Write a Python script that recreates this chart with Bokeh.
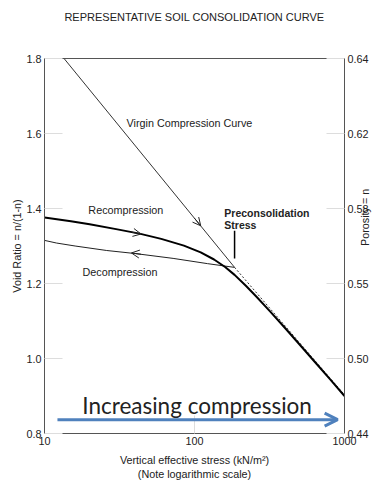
import math
from bokeh.plotting import figure
from bokeh.models import LinearAxis, FixedTicker, PrintfTickFormatter, Label, Arrow, OpenHead
from bokeh.embed import file_html
from bokeh.resources import INLINE

# ---- data ----
stress_virgin = [13.5, 185]
e_virgin = [1.80, 1.243]

stress_dash = [185, 1000]
e_dash = [1.243, 0.903]

stress_recomp = [10, 15, 20, 30, 43, 60, 85, 110, 135, 160, 185, 220, 260, 320, 400, 500, 650, 800, 1000]
e_recomp = [1.376, 1.366, 1.358, 1.345, 1.333, 1.319, 1.301, 1.283, 1.264, 1.244, 1.223, 1.194,
            1.164, 1.125, 1.082, 1.038, 0.986, 0.945, 0.900]

stress_decomp = [185, 122, 72, 40, 26, 16, 12, 10]
e_decomp = [1.243, 1.253, 1.267, 1.280, 1.288, 1.300, 1.308, 1.315]

precon_stress = [185, 185]
precon_bar = [1.267, 1.341]

void_ticks = [0.8, 1.0, 1.2, 1.4, 1.6, 1.8]
porosity_labels = ["0.44", "0.50", "0.55", "0.58", "0.62", "0.64"]
stress_ticks = [10, 100, 1000]

# arrow annotations: (x_start, y_start, x_end, y_end)
arrow_virgin = (100, 1.374, 110, 1.354)
arrow_recomp = (38, 1.337, 44, 1.332)
arrow_decomp = (44, 1.278, 38, 1.2815)
arrow_blue = (12.2, 0.837, 900, 0.837)

FONT = "Liberation Sans"
INK = "#222222"
AXC = "#555555"
TICKC = "#dddddd"

p = figure(width=379, height=484, x_axis_type="log", x_range=(10, 1000), y_range=(0.8, 1.8),
           output_backend="svg", toolbar_location=None,
           min_border_left=44, min_border_right=35, min_border_top=58, min_border_bottom=51)
p.grid.visible = False
p.outline_line_color = AXC
p.background_fill_color = "white"
p.border_fill_color = "white"

# lines
p.line(stress_virgin, e_virgin, line_color="#333333", line_width=1)
p.line(stress_dash, e_dash, line_color="#333333", line_width=1, line_dash="2 2")
p.line(stress_decomp, e_decomp, line_color="#222222", line_width=1)
p.line(stress_recomp, e_recomp, line_color="#000000", line_width=2)
p.line(precon_stress, precon_bar, line_color="#000000", line_width=1.5)

for a in (arrow_virgin, arrow_recomp, arrow_decomp):
    p.add_layout(Arrow(end=OpenHead(size=8, line_width=1, line_color=INK),
                       x_start=a[0], y_start=a[1], x_end=a[2], y_end=a[3],
                       line_color=INK, line_width=1))

p.add_layout(Arrow(end=OpenHead(size=13, line_width=3, line_color="#4f81bd"),
                   x_start=arrow_blue[0], y_start=arrow_blue[1],
                   x_end=arrow_blue[2], y_end=arrow_blue[3],
                   line_color="#4f81bd", line_width=3))

def lab(x, y, t, size="10.8px", style="normal", font=FONT, align="left"):
    p.add_layout(Label(x=x, y=y, text=t, text_font=font, text_font_size=size,
                       text_font_style=style, text_color=INK, text_baseline="middle",
                       text_align=align))

lab(35.2, 1.629, "Virgin Compression Curve")
lab(19.6, 1.397, "Recompression")
lab(17.9, 1.232, "Decompression")
lab(158, 1.389, "Preconsolidation", size="10.5px", style="bold")
lab(158, 1.357, "Stress", size="10.5px", style="bold")
lab(104, 0.875, "Increasing compression", size="22.5px", font="Lato", align="center")

# axes
xa = p.xaxis[0]
xa.ticker = FixedTicker(ticks=stress_ticks)
xa.formatter = PrintfTickFormatter(format="%d")
xa.axis_label = "Vertical effective stress (kN/m\u00b2)\n(Note logarithmic scale)"
ya = p.yaxis[0]
ya.ticker = FixedTicker(ticks=void_ticks)
ya.formatter = PrintfTickFormatter(format="%.1f")
ya.axis_label = "Void Ratio = n/(1-n)"

ra = LinearAxis(ticker=FixedTicker(ticks=void_ticks),
                major_label_overrides=dict(zip(void_ticks, porosity_labels)),
                axis_label="Porosity = n", axis_label_orientation=math.pi / 2)
p.add_layout(ra, "right")

# chart title carried by an empty top axis
ta = LinearAxis(ticker=FixedTicker(ticks=[]), axis_label="REPRESENTATIVE SOIL CONSOLIDATION CURVE",
                axis_line_color=None)
p.add_layout(ta, "above")

for ax in (xa, ya, ra, ta):
    if ax is not ta:
        ax.axis_line_color = AXC
    ax.major_tick_line_color = TICKC
    ax.major_tick_out = 0
    ax.major_tick_in = 18
    ax.minor_tick_line_color = None
    ax.major_label_text_font = FONT
    ax.major_label_text_font_size = "10.8px"
    ax.major_label_text_color = INK
    ax.major_label_standoff = 3
    ax.axis_label_text_font = FONT
    ax.axis_label_text_font_size = "10.8px"
    ax.axis_label_text_font_style = "normal"
    ax.axis_label_text_color = INK
ya.axis_label_standoff = 0
xa.axis_label_standoff = 6
ra.axis_label_standoff = -7
ta.axis_label_text_font_size = "11px"
ta.axis_label_standoff = 36

open("out.html", "w").write(file_html(p, INLINE))
